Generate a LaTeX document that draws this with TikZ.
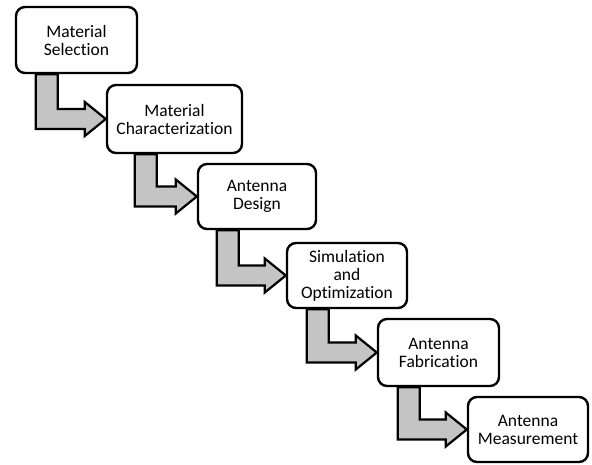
\documentclass[tikz,border=0pt]{standalone}
\usepackage{fontspec}
\setmainfont{Carlito}[Ligatures=NoCommon]
\usetikzlibrary{calc}
\pgfdeclarelayer{background}
\pgfsetlayers{background,main}
\definecolor{arrowgray}{RGB}{196,196,196}
\tikzset{
  stepbox/.style={draw=black, line width=2.4pt, fill=white, rounded corners=9pt,
    align=center, inner sep=0pt, font=\fontsize{17.5}{18}\selectfont},
  elbowarrow/.style={draw=black, line width=2.2pt, fill=arrowgray, line join=miter},
}
\newcommand{\elbow}[3]{%
  \path let \p1=(#1.south west), \p2=(#2.west) in
    [elbowarrow] (\x1+#3,\y1) -- (\x1+#3,\y2-10pt) -- (\x2-21pt,\y2-10pt)
    -- (\x2-21pt,\y2-17pt) -- (\x2,\y2) -- (\x2-21pt,\y2+17pt)
    -- (\x2-21pt,\y2+10pt) -- (\x1+#3+22pt,\y2+10pt) -- (\x1+#3+22pt,\y1) -- cycle;}
\begin{document}
\begin{tikzpicture}[x=1pt,y=1pt]
\useasboundingbox (0,0) rectangle (592,-465);
\node[stepbox, minimum width=121pt, minimum height=66pt] (n1) at (76.5,-40) {Material\\Selection};
\node[stepbox, minimum width=135pt, minimum height=68pt] (n2) at (174.5,-119) {Material\\Characterization};
\node[stepbox, minimum width=118pt, minimum height=65pt] (n3) at (257,-196.5) {Antenna\\Design};
\node[stepbox, minimum width=120pt, minimum height=65pt] (n4) at (347,-275.5) {Simulation\\and\\Optimization};
\node[stepbox, minimum width=121pt, minimum height=67pt] (n5) at (438.5,-352.5) {Antenna\\Fabrication};
\node[stepbox, minimum width=120pt, minimum height=65pt] (n6) at (528,-429.5) {Antenna\\Measurement};
\begin{pgfonlayer}{background}
\elbow{n1}{n2}{21pt}
\elbow{n2}{n3}{29pt}
\elbow{n3}{n4}{20pt}
\elbow{n4}{n5}{21pt}
\elbow{n5}{n6}{21pt}
\end{pgfonlayer}
\end{tikzpicture}
\end{document}
